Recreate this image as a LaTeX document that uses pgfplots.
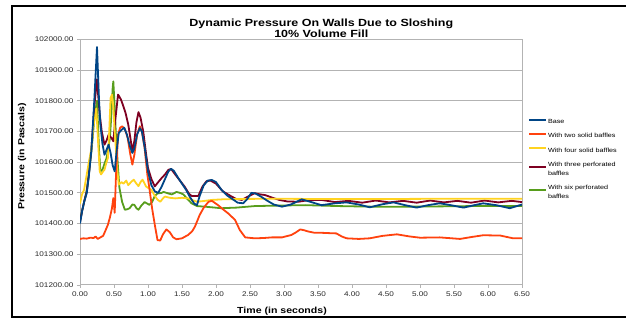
\documentclass[border=0pt]{standalone}
\usepackage{fontspec}
\setmainfont{Liberation Sans}[FakeStretch=1.2]
\usepackage{pgfplots}
\pgfplotsset{compat=1.18}
\definecolor{cbase}{HTML}{004586}
\definecolor{ctwo}{HTML}{FF420E}
\definecolor{cfour}{HTML}{FFD320}
\definecolor{cthree}{HTML}{7E0021}
\definecolor{csix}{HTML}{579D1C}
\definecolor{cgrid}{HTML}{B3B3B3}
\newcommand{\ent}[1]{\begin{tabular}[t]{@{}l@{}}#1\end{tabular}}
\begin{document}
\begin{tikzpicture}
\path[use as bounding box] (0pt,0pt) rectangle (626pt,321pt);
\draw[line width=1.8pt] (630pt,315pt) -- (12pt,315pt) -- (12pt,4pt) -- (630pt,4pt);
\begin{axis}[
  at={(80pt,36pt)}, anchor=south west, scale only axis,
  width=442pt, height=245.7pt,
  xmin=0, xmax=6.5, ymin=101200, ymax=102000,
  xtick={0,0.5,1,1.5,2,2.5,3,3.5,4,4.5,5,5.5,6,6.5},
  xticklabels={0.00,0.50,1.00,1.50,2.00,2.50,3.00,3.50,4.00,4.50,5.00,5.50,6.00,6.50},
  ytick={101200,101300,101400,101500,101600,101700,101800,101900,102000},
  yticklabels={101200.00,101300.00,101400.00,101500.00,101600.00,101700.00,101800.00,101900.00,102000.00},
  scaled y ticks=false, scaled x ticks=false,
  ticklabel style={font=\fontsize{6.8}{8}\selectfont, text=black!85},
  tick align=outside, xtick pos=left, ytick pos=left,
  major tick length=3pt,
  tick style={cgrid, line width=0.8pt},
  axis line style={cgrid, line width=1pt},
  ymajorgrids, grid style={cgrid, line width=1pt},
  title={Dynamic Pressure On Walls Due to Sloshing\\10\% Volume Fill},
  title style={at={(axis description cs:0.546,1.047)}, anchor=center, yshift=-6.5pt, align=center, font=\bfseries\fontsize{10.4}{11}\selectfont},
  xlabel={Time (in seconds)},
  xlabel style={at={(axis description cs:0.457,-0.106)}, anchor=center, font=\bfseries\fontsize{8.8}{10}\selectfont},
  ylabel={Pressure (in Pascals)},
  ylabel style={at={(axis description cs:-0.131,0.523)}, anchor=center, font=\bfseries\fontsize{8.8}{10}\selectfont},
  legend style={at={(axis description cs:1.0136,0.687)}, anchor=north west, draw=none, fill=none,
    font=\fontsize{6}{9}\selectfont, row sep=3.2pt, inner sep=0pt,
    nodes={text depth={}, inner sep=1pt}, cells={anchor=base west}},
  legend cell align=left,
  legend image code/.code={\draw[#1, line width=1.8pt] (0pt,2pt) -- (17pt,2pt);},
  reverse legend,
  every axis plot/.append style={line width=1.8pt, line join=round},
]
% six perforated
\addplot[csix] coordinates {
(0.00,101410)(0.03,101440)(0.06,101470)(0.10,101510)(0.13,101560)(0.17,101640)(0.21,101740)(0.25,101800)
(0.28,101640)(0.30,101570)(0.33,101575)(0.36,101595)(0.39,101613)(0.42,101650)(0.44,101679)(0.46,101750)
(0.48,101840)(0.49,101863)(0.51,101780)(0.53,101679)(0.56,101580)(0.58,101516)(0.62,101470)(0.66,101445)
(0.70,101447)(0.73,101450)(0.77,101462)(0.80,101461)(0.83,101450)(0.86,101445)(0.90,101458)(0.95,101470)
(0.99,101465)(1.02,101461)(1.06,101470)(1.10,101490)(1.14,101498)(1.20,101500)(1.23,101503)(1.30,101498)
(1.35,101495)(1.42,101503)(1.47,101500)(1.52,101495)(1.58,101480)(1.64,101466)(1.72,101457)(1.84,101455)
(2.08,101450)(2.30,101452)(2.57,101457)(3.00,101459)(3.31,101460)(3.80,101457)(4.30,101455)(4.80,101455)
(5.30,101456)(5.80,101457)(6.50,101457)};
\addlegendentry{\ent{With six perforated\\baffles}}
% three perforated
\addplot[cthree] coordinates {
(0.00,101405)(0.03,101440)(0.06,101470)(0.10,101505)(0.13,101560)(0.17,101650)(0.21,101780)(0.25,101870)
(0.27,101810)(0.29,101755)(0.32,101700)(0.36,101657)(0.39,101670)(0.42,101689)(0.46,101680)(0.49,101668)
(0.52,101740)(0.56,101820)(0.60,101805)(0.63,101787)(0.67,101760)(0.71,101722)(0.74,101680)(0.77,101635)
(0.80,101670)(0.83,101730)(0.86,101763)(0.89,101745)(0.93,101700)(0.97,101630)(1.00,101581)(1.05,101545)
(1.10,101521)(1.15,101535)(1.20,101548)(1.25,101560)(1.30,101575)(1.34,101578)(1.40,101560)(1.47,101540)
(1.54,101520)(1.60,101498)(1.64,101490)(1.70,101490)(1.74,101490)(1.80,101520)(1.86,101538)(1.92,101540)
(2.00,101530)(2.10,101505)(2.23,101488)(2.30,101480)(2.38,101477)(2.47,101488)(2.57,101499)(2.65,101495)
(2.72,101493)(2.82,101485)(2.93,101477)(3.05,101472)(3.21,101471)(3.35,101476)(3.55,101477)(3.75,101470)
(3.95,101474)(4.15,101468)(4.35,101475)(4.55,101469)(4.75,101474)(4.95,101468)(5.15,101475)(5.35,101469)
(5.55,101474)(5.75,101468)(5.95,101475)(6.15,101469)(6.35,101474)(6.50,101470)};
\addlegendentry{\ent{With three perforated\\baffles}}
% four solid
\addplot[cfour] coordinates {
(0.00,101465)(0.03,101495)(0.06,101510)(0.09,101548)(0.13,101600)(0.17,101646)(0.20,101720)(0.24,101775)
(0.27,101650)(0.29,101570)(0.31,101560)(0.34,101570)(0.36,101575)(0.39,101600)(0.41,101613)(0.43,101700)
(0.45,101809)(0.47,101820)(0.49,101780)(0.51,101700)(0.55,101570)(0.57,101527)(0.61,101535)(0.64,101530)
(0.68,101540)(0.71,101525)(0.75,101535)(0.79,101543)(0.83,101530)(0.86,101522)(0.89,101535)(0.92,101543)
(0.95,101530)(0.97,101521)(1.01,101515)(1.05,101510)(1.10,101490)(1.14,101478)(1.18,101471)(1.22,101482)
(1.25,101488)(1.32,101484)(1.40,101482)(1.50,101484)(1.59,101482)(1.66,101476)(1.72,101471)(1.80,101473)
(1.94,101477)(2.10,101479)(2.33,101480)(2.80,101481)(3.50,101480)(4.50,101480)(5.50,101481)(6.50,101481)};
\addlegendentry{\ent{With four solid baffles}}
% two solid
\addplot[ctwo] coordinates {
(0.00,101350)(0.05,101352)(0.10,101351)(0.15,101354)(0.20,101353)(0.23,101358)(0.26,101350)(0.30,101355)
(0.34,101360)(0.37,101375)(0.41,101396)(0.44,101420)(0.47,101450)(0.49,101483)(0.51,101435)(0.53,101560)
(0.56,101690)(0.59,101712)(0.62,101717)(0.66,101708)(0.70,101680)(0.74,101625)(0.77,101592)(0.80,101625)
(0.84,101690)(0.88,101717)(0.91,101700)(0.95,101646)(0.99,101560)(1.02,101516)(1.06,101450)(1.10,101396)
(1.14,101346)(1.18,101345)(1.22,101365)(1.27,101381)(1.32,101372)(1.37,101355)(1.42,101349)(1.50,101352)
(1.59,101363)(1.65,101375)(1.69,101390)(1.76,101428)(1.82,101452)(1.89,101471)(1.94,101474)(2.03,101460)
(2.10,101447)(2.18,101433)(2.28,101412)(2.35,101379)(2.43,101355)(2.57,101352)(2.70,101353)(2.82,101355)
(2.97,101355)(3.11,101363)(3.18,101372)(3.24,101381)(3.30,101378)(3.36,101374)(3.45,101370)(3.55,101370)
(3.65,101369)(3.77,101368)(3.85,101358)(3.92,101352)(4.10,101350)(4.26,101352)(4.45,101360)(4.66,101365)
(4.85,101358)(5.00,101354)(5.29,101355)(5.59,101350)(5.75,101356)(5.93,101362)(6.18,101361)(6.37,101352)
(6.50,101352)};
\addlegendentry{\ent{With two solid baffles}}
% base
\addplot[cbase] coordinates {
(0.00,101400)(0.03,101440)(0.06,101470)(0.10,101500)(0.13,101555)(0.17,101646)(0.21,101800)(0.25,101975)
(0.28,101800)(0.30,101722)(0.33,101660)(0.36,101624)(0.39,101640)(0.42,101657)(0.45,101630)(0.48,101590)
(0.51,101570)(0.54,101640)(0.57,101695)(0.61,101705)(0.65,101712)(0.69,101690)(0.73,101655)(0.77,101630)
(0.80,101645)(0.84,101690)(0.88,101711)(0.91,101700)(0.95,101650)(1.00,101570)(1.05,101525)(1.10,101505)
(1.15,101500)(1.20,101520)(1.25,101545)(1.30,101570)(1.34,101578)(1.38,101572)(1.44,101550)(1.50,101530)
(1.56,101510)(1.62,101485)(1.68,101465)(1.72,101460)(1.76,101490)(1.82,101525)(1.88,101540)(1.94,101542)
(2.00,101535)(2.08,101510)(2.16,101492)(2.24,101480)(2.32,101468)(2.40,101466)(2.46,101480)(2.52,101500)
(2.58,101498)(2.66,101488)(2.75,101475)(2.85,101462)(2.97,101455)(3.10,101462)(3.26,101479)(3.40,101470)
(3.55,101460)(3.75,101466)(3.92,101469)(4.10,101462)(4.26,101453)(4.45,101463)(4.61,101469)(4.78,101460)
(4.95,101452)(5.12,101460)(5.29,101466)(5.45,101460)(5.64,101452)(5.80,101460)(5.93,101466)(6.12,101460)
(6.32,101450)(6.50,101462)};
\addlegendentry{\ent{Base}}
\end{axis}
\end{tikzpicture}
\end{document}
